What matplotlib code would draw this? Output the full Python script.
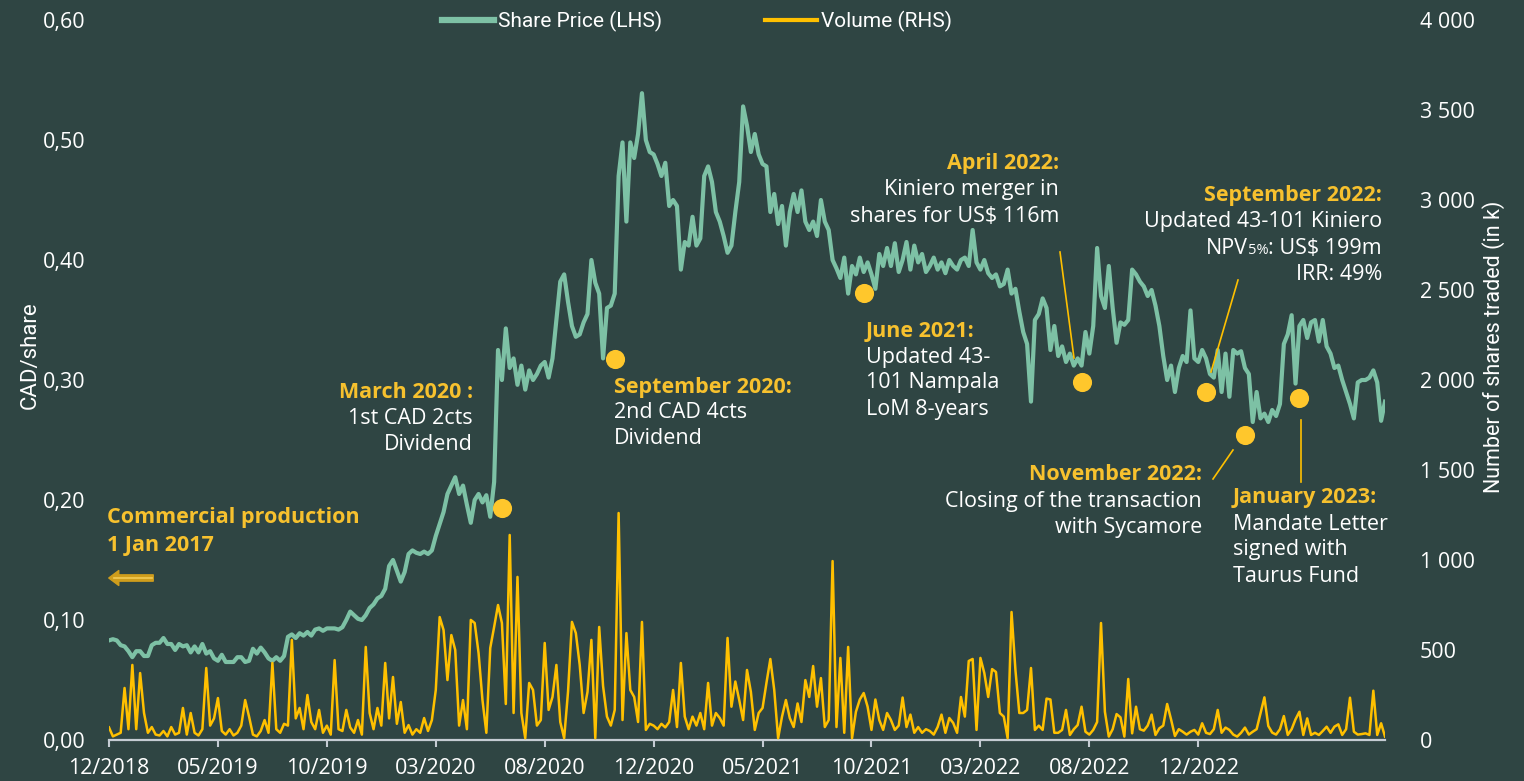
import numpy as np
import matplotlib
matplotlib.use("Agg")
import matplotlib.pyplot as plt
from matplotlib.lines import Line2D

plt.rcParams['font.family'] = ['Open Sans', 'DejaVu Sans']

# colours
bg = "#2f4543"
green = "#7dc1a5"
gold = "#ffc000"
dot_col = "#ffc72c"
title_col = "#f7c12e"
axis_col = "#c5ccd3"

# x axis: one point every ~4 trading days, a label every 28 points
tick_step = 28
tick_labels = ["12/2018", "05/2019", "10/2019", "03/2020", "08/2020", "12/2020",
               "05/2021", "10/2021", "03/2022", "08/2022", "12/2022"]

# share price, CAD/share (LHS)
price = [
    0.083, 0.084, 0.083, 0.079, 0.078, 0.074, 0.069, 0.074, 0.074, 0.070,
    0.070, 0.079, 0.081, 0.081, 0.085, 0.080, 0.080, 0.075, 0.080, 0.078,
    0.079, 0.073, 0.078, 0.073, 0.080, 0.072, 0.074, 0.068, 0.066, 0.071,
    0.065, 0.065, 0.065, 0.069, 0.069, 0.065, 0.066, 0.076, 0.072, 0.077,
    0.073, 0.068, 0.066, 0.069, 0.066, 0.070, 0.086, 0.088, 0.085, 0.089,
    0.087, 0.090, 0.087, 0.092, 0.093, 0.091, 0.093, 0.093, 0.093, 0.092,
    0.094, 0.100, 0.107, 0.104, 0.101, 0.100, 0.104, 0.110, 0.113, 0.118,
    0.120, 0.126, 0.145, 0.150, 0.141, 0.132, 0.140, 0.155, 0.158, 0.156,
    0.155, 0.157, 0.155, 0.158, 0.170, 0.180, 0.190, 0.205, 0.212, 0.219,
    0.205, 0.212, 0.196, 0.181, 0.200, 0.205, 0.198, 0.204, 0.186, 0.215,
    0.325, 0.300, 0.343, 0.310, 0.318, 0.296, 0.312, 0.292, 0.308, 0.300,
    0.305, 0.312, 0.315, 0.302, 0.318, 0.350, 0.382, 0.388, 0.365, 0.345,
    0.336, 0.338, 0.348, 0.355, 0.400, 0.381, 0.372, 0.318, 0.360, 0.362,
    0.372, 0.470, 0.498, 0.432, 0.498, 0.485, 0.505, 0.539, 0.500, 0.490,
    0.488, 0.480, 0.470, 0.481, 0.445, 0.450, 0.445, 0.392, 0.415, 0.412,
    0.436, 0.412, 0.418, 0.470, 0.478, 0.465, 0.440, 0.432, 0.420, 0.406,
    0.412, 0.440, 0.465, 0.528, 0.512, 0.490, 0.505, 0.488, 0.480, 0.478,
    0.440, 0.455, 0.430, 0.445, 0.412, 0.440, 0.455, 0.440, 0.458, 0.432,
    0.425, 0.432, 0.420, 0.450, 0.432, 0.425, 0.400, 0.393, 0.385, 0.402,
    0.372, 0.395, 0.388, 0.402, 0.390, 0.398, 0.388, 0.376, 0.405, 0.395,
    0.410, 0.395, 0.414, 0.390, 0.400, 0.415, 0.392, 0.412, 0.398, 0.405,
    0.390, 0.395, 0.402, 0.392, 0.398, 0.389, 0.400, 0.395, 0.392, 0.400,
    0.402, 0.395, 0.425, 0.398, 0.392, 0.400, 0.389, 0.385, 0.388, 0.378,
    0.380, 0.392, 0.372, 0.376, 0.357, 0.340, 0.330, 0.282, 0.350, 0.355,
    0.368, 0.360, 0.325, 0.345, 0.320, 0.328, 0.315, 0.322, 0.312, 0.318,
    0.312, 0.340, 0.322, 0.345, 0.410, 0.370, 0.360, 0.395, 0.360, 0.331,
    0.348, 0.346, 0.350, 0.392, 0.388, 0.382, 0.378, 0.370, 0.375, 0.362,
    0.345, 0.320, 0.300, 0.312, 0.290, 0.310, 0.320, 0.315, 0.358, 0.318,
    0.315, 0.325, 0.318, 0.305, 0.302, 0.325, 0.290, 0.322, 0.286, 0.325,
    0.322, 0.324, 0.310, 0.305, 0.265, 0.290, 0.268, 0.272, 0.265, 0.275,
    0.270, 0.280, 0.330, 0.338, 0.354, 0.297, 0.345, 0.350, 0.335, 0.348,
    0.350, 0.332, 0.350, 0.328, 0.322, 0.310, 0.312, 0.300, 0.290, 0.280,
    0.268, 0.298, 0.300, 0.300, 0.302, 0.308, 0.298, 0.266, 0.282,
]

# volume, thousand shares (RHS)
volume = [
    70, 20, 30, 40, 289, 60, 417, 60, 372, 150,
    40, 72, 30, 25, 50, 20, 72, 30, 40, 178,
    30, 150, 40, 25, 60, 400, 80, 120, 233, 50,
    30, 60, 25, 40, 80, 222, 130, 30, 20, 50,
    111, 40, 428, 60, 40, 90, 80, 556, 120, 178,
    60, 250, 100, 60, 167, 40, 80, 30, 444, 60,
    50, 167, 70, 40, 111, 30, 517, 150, 60, 178,
    80, 428, 120, 350, 90, 211, 40, 83, 30, 60,
    40, 122, 50, 111, 278, 683, 611, 333, 583, 500,
    80, 222, 60, 667, 650, 483, 222, 40, 511, 628,
    750, 650, 200, 1139, 150, 906, 150, 10, 317, 278,
    80, 111, 539, 167, 239, 417, 100, 10, 270, 656,
    594, 417, 150, 267, 556, 10, 628, 300, 130, 80,
    167, 1261, 111, 594, 278, 239, 100, 656, 56, 90,
    80, 60, 90, 70, 100, 278, 72, 428, 130, 60,
    130, 80, 150, 60, 317, 80, 150, 122, 80, 567,
    185, 325, 222, 111, 389, 267, 56, 150, 178, 317,
    450, 278, 10, 130, 222, 122, 72, 203, 100, 333,
    239, 411, 185, 344, 72, 111, 994, 72, 456, 40,
    517, 10, 157, 225, 261, 185, 56, 225, 111, 56,
    150, 111, 56, 80, 236, 72, 141, 40, 72, 40,
    60, 50, 30, 72, 141, 40, 122, 95, 40, 239,
    130, 439, 450, 56, 456, 372, 239, 394, 378, 150,
    130, 10, 711, 389, 150, 150, 167, 400, 56, 80,
    56, 230, 225, 40, 40, 56, 167, 28, 60, 83,
    185, 46, 30, 56, 100, 650, 157, 19, 60, 144,
    126, 19, 339, 37, 185, 60, 52, 80, 141, 28,
    65, 80, 200, 115, 22, 60, 46, 30, 46, 56,
    30, 93, 40, 33, 60, 167, 40, 69, 56, 30,
    19, 40, 69, 30, 46, 60, 148, 237, 78, 41,
    30, 60, 133, 28, 60, 115, 157, 28, 120, 28,
    40, 28, 50, 74, 40, 74, 87, 28, 60, 235,
    46, 30, 33, 37, 28, 274, 28, 93, 19,
]

# event markers (point index, CAD/share)
event_idx = [101, 130, 194, 250, 282, 292, 306]
event_val = [0.193, 0.3175, 0.3725, 0.298, 0.290, 0.254, 0.285]

W, H = 1524, 781
fig = plt.figure(figsize=(W / 100, H / 100), dpi=100, facecolor=bg)
ax = fig.add_axes([109 / W, 1 - 740 / H, (1385 - 109) / W, 720 / H])
ax.set_facecolor(bg)
ax2 = ax.twinx()

x = np.arange(len(price))
ax.plot(x, price, color=green, lw=3.0, solid_joinstyle="round")
ax2.plot(x, volume, color=gold, lw=1.8, solid_joinstyle="round")
ax2.scatter(event_idx, event_val, s=190, color=dot_col, zorder=5,
            transform=ax.transData, clip_on=False, linewidths=0)

ax.set_xlim(0, len(price) - 1)
ax.set_ylim(0, 0.6)
ax2.set_ylim(0, 4000)

ax.set_xticks(np.arange(len(tick_labels)) * tick_step)
ax.set_xticklabels(tick_labels)
yt = np.arange(0, 0.61, 0.1)
ax.set_yticks(yt)
ax.set_yticklabels([f"{v:.2f}".replace(".", ",") for v in yt])
vt = np.arange(0, 4001, 500)
ax2.set_yticks(vt)
ax2.set_yticklabels([f"{int(v):,}".replace(",", " ") for v in vt])

for a in (ax, ax2):
    for s in a.spines.values():
        s.set_visible(False)
ax.spines["bottom"].set_visible(True)
ax.spines["bottom"].set_color(axis_col)
ax.spines["bottom"].set_linewidth(1.6)

ax.tick_params(axis="x", length=5, width=1.5, color=axis_col, labelcolor="white",
               labelsize=15.5, pad=8)
ax.tick_params(axis="y", length=0, labelcolor="white", labelsize=15.5, pad=17)
ax2.tick_params(axis="y", length=0, labelcolor="white", labelsize=15.5, pad=25)
for t in ax2.get_yticklabels():
    t.set_horizontalalignment("left")

# axis titles
fig.text(30 / W, 1 - 355 / H, "CAD/share", rotation=90, color="white",
         fontsize=16, family=["Roboto", "DejaVu Sans"], ha="center", va="center")
fig.text(1494 / W, 1 - 347 / H, "Number of shares traded (in k)", rotation=90,
         color="white", fontsize=15.5, family=["Roboto", "DejaVu Sans"],
         ha="center", va="center")

# legend
handles = [Line2D([], [], color=green, lw=4.5), Line2D([], [], color=gold, lw=3)]
fig.legend(handles, ["Share Price (LHS)", "Volume (RHS)"], loc="center",
           bbox_to_anchor=(697 / W, 1 - 21 / H), ncol=2, frameon=False,
           handlelength=2.5, handletextpad=0.2, columnspacing=4.9,
           labelcolor="white", prop={"family": ["Roboto", "DejaVu Sans"], "size": 15})


def put(px, py, s, color="white", weight="normal", ha="left", size=15.5):
    return fig.text(px / W, 1 - py / H, s, color=color, fontweight=weight, ha=ha,
                    va="center", fontsize=size)


def block(px, py, title, lines, ha):
    put(px, py, title, color=title_col, weight="bold", ha=ha)
    for k, ln in enumerate(lines):
        put(px, py + 26 * (k + 1), ln, ha=ha)


def link(x0, y0, x1, y1):
    fig.add_artist(Line2D([x0 / W, x1 / W], [1 - y0 / H, 1 - y1 / H],
                          color=gold, lw=1.2, transform=fig.transFigure))


put(107, 518, "Commercial production", color=title_col, weight="bold")
put(107, 545, "1 Jan 2017", color=title_col, weight="bold")
ax.annotate("", xy=(106 / W, 1 - 578 / H), xytext=(156 / W, 1 - 578 / H),
            xycoords="figure fraction",
            arrowprops=dict(arrowstyle="simple,head_length=0.6,head_width=0.9,tail_width=0.38",
                            fc="#cf9d1c", ec="#cf9d1c", mutation_scale=12))
fig.add_artist(Line2D([114 / W, 152 / W], [1 - 578 / H, 1 - 578 / H],
                      color="#f4cb55", lw=1.2, transform=fig.transFigure))

block(473, 393, "March 2020 :", ["1st CAD 2cts", "Dividend"], "right")
block(614, 387, "September 2020:", ["2nd CAD 4cts", "Dividend"], "left")
block(866, 331, "June 2021:", ["Updated 43-", "101 Nampala", "LoM 8-years"], "left")
block(1059, 164, "April 2022:", ["Kiniero merger in", "shares for US$ 116m"], "right")
block(1382, 196, "September 2022:", ["Updated 43-101 Kiniero"], "right")
put(1382, 274, "IRR: 49%", ha="right")

# NPV line with a small "5%" subscript, assembled right to left
rend = fig.canvas.get_renderer()
t_tail = put(1382, 248, ": US$ 199m", ha="right")
left = t_tail.get_window_extent(rend).x0
t_sub = put(left, 251, "5%", ha="right", size=10.5)
left = t_sub.get_window_extent(rend).x0
put(left, 248, "NPV", ha="right")

block(1202, 475, "November 2022:", ["Closing of the transaction", "with Sycamore"], "right")
block(1233, 498, "January 2023:", ["Mandate Letter", "signed with", "Taurus Fund"], "left")

link(1060, 252, 1074, 358)
link(1238, 280, 1211, 372)
link(1233, 450, 1213, 479)
link(1301, 420, 1301, 482)

fig.savefig("out.png", dpi=100, facecolor=bg)
